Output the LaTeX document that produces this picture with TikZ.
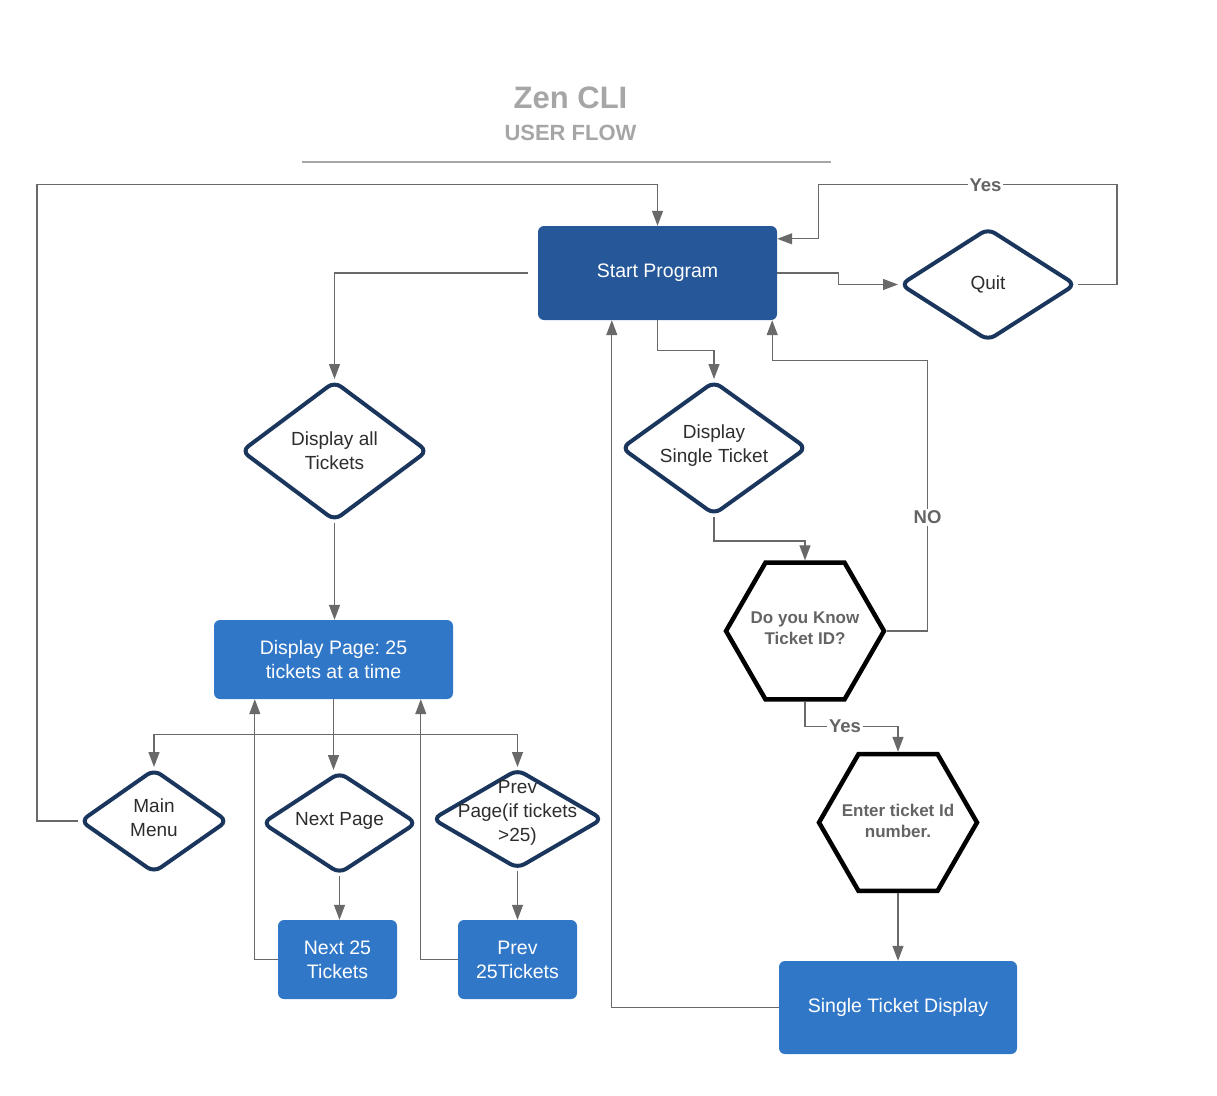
\documentclass[tikz,border=0pt]{standalone}
\usepackage{fontspec}
\setmainfont{Liberation Sans}
\usetikzlibrary{shapes.geometric,arrows.meta,calc}
\definecolor{darkbox}{RGB}{37,87,153}
\definecolor{lightbox}{RGB}{49,119,199}
\definecolor{rim}{RGB}{27,54,93}
\definecolor{wire}{RGB}{105,105,105}
\definecolor{caption}{RGB}{166,166,166}
\definecolor{ink}{RGB}{45,45,45}
\definecolor{hextext}{RGB}{100,100,100}
\frenchspacing

\begin{document}
\begin{tikzpicture}[x=1pt,y=-1pt,
    box/.style={rectangle,rounded corners=6pt,text=white,align=center,inner sep=0pt,
      font=\fontsize{19.5}{24}\selectfont},
    decision/.style={diamond,draw=rim,line width=4pt,rounded corners=8pt,fill=white,inner sep=0pt},
    dtext/.style={text=ink,align=center,font=\fontsize{19}{24}\selectfont},
    hexa/.style={regular polygon,regular polygon sides=6,minimum size=158pt,draw=black,
      line width=4.5pt,fill=white,inner sep=0pt},
    htext/.style={text=hextext,align=center,font=\bfseries\fontsize{17}{21}\selectfont},
    flow/.style={draw=wire,line width=1.3pt,-{Triangle[length=15pt,width=11pt]}},
    lbl/.style={fill=white,text=hextext,inner sep=2pt,font=\bfseries\fontsize{18.5}{22}\selectfont}]

  \useasboundingbox (0,0) rectangle (1217,1095);

  \node[text=caption,font=\bfseries\fontsize{31}{36}\selectfont] (title) at (570.5,98) {Zen CLI};
  \node[text=caption,font=\bfseries\fontsize{22}{26}\selectfont] (subtitle) at (570.5,133) {USER FLOW};
  \draw[caption,line width=1.3pt] (302,162) -- (831,162);

  \begin{scope}[every node/.style={box}]
    \node[fill=darkbox,minimum width=239pt,minimum height=94pt] (start) at (657.5,273) {Start Program};
    \node[fill=lightbox,minimum width=239pt,minimum height=79pt] (page) at (333.5,659.5) {Display Page: 25\\tickets at a time};
    \node[fill=lightbox,minimum width=119pt,minimum height=79pt] (nexttk) at (337.5,959.5) {Next 25\\Tickets};
    \node[fill=lightbox,minimum width=119pt,minimum height=79pt] (prevtk) at (517.5,959.5) {Prev\\25Tickets};
    \node[fill=lightbox,minimum width=238pt,minimum height=93pt] (show) at (898,1007.5) {Single Ticket Display};
  \end{scope}

  \begin{scope}[every node/.style={decision}]
    \node[minimum width=176pt,minimum height=113pt,label={[dtext]center:Quit}] (quit) at (988,284.5) {};
    \node[minimum width=187pt,minimum height=140pt,label={[dtext]center:Display all\\Tickets}] (all) at (334.5,451) {};
    \node[minimum width=186pt,minimum height=134pt,label={[dtext,yshift=2pt]center:Display\\Single Ticket}] (single) at (714,448) {};
    \node[minimum width=148pt,minimum height=104pt,label={[dtext,yshift=3pt]center:Main\\Menu}] (menu) at (154,821) {};
    \node[minimum width=155pt,minimum height=102pt,label={[dtext,yshift=2pt]center:Next Page}] (next) at (339.5,823) {};
    \node[minimum width=171pt,minimum height=100pt,label={[dtext,yshift=6pt]center:Prev\\Page(if tickets\\>25)}] (prev) at (517.5,819) {};
  \end{scope}

  \begin{scope}[every node/.style={hexa}]
    \node[label={[htext,yshift=3pt]center:Do you Know\\Ticket ID?}] (know) at (805,631) {};
    \node[label={[htext,yshift=2pt]center:Enter ticket Id\\number.}] (enter) at (898,822.5) {};
  \end{scope}

  \draw[flow] (menu.west) -- ++(-41,0) |- ($(start.north)+(0,-41)$) -- (start.north);
  \draw[flow] (quit.east) -- ++(39,0) |- node[lbl,pos=0.72]{Yes} ($(start.north east)+(41,-41)$) |- ($(start.north east)+(0,13)$);
  \draw[flow] (start.east) -- ++(61,0) |- (quit.west);
  \draw[flow] ([xshift=-10pt]start.west) -| (all.north);
  \draw[flow] (start.south) -- ++(0,30) -| (single.north);
  \draw[flow] (all.south) -- (all.south |- page.north);
  \draw[flow] (single.south) -- ++(0,24) -| (know.north);
  \draw[flow] (know.east) -- ++(41,0) |- node[lbl,pos=0.21]{NO} ($(start.south east)+(-5,40)$) -- ($(start.south east)+(-5,0)$);
  \draw[flow] (know.south) -- ++(0,25) -| node[lbl,pos=0.215]{Yes} (enter.north);
  \draw[flow] (enter.south) -- (show.north);
  \draw[flow] (show.west) -| ($(start.south west)+(74,0)$);
  \draw[flow] (page.south) -- ++(0,35) coordinate (fork) -| (menu.north);
  \draw[flow] (fork) -| (prev.north);
  \draw[flow] (fork) -- (fork |- next.north);
  \draw[flow] (next.south) -- (next.south |- nexttk.north);
  \draw[flow] (nexttk.west) -| ($(page.south west)+(41,0)$);
  \draw[flow] (prev.south) -- (prevtk.north);
  \draw[flow] (prevtk.west) -| ($(page.south west)+(207,0)$);

\end{tikzpicture}
\end{document}
